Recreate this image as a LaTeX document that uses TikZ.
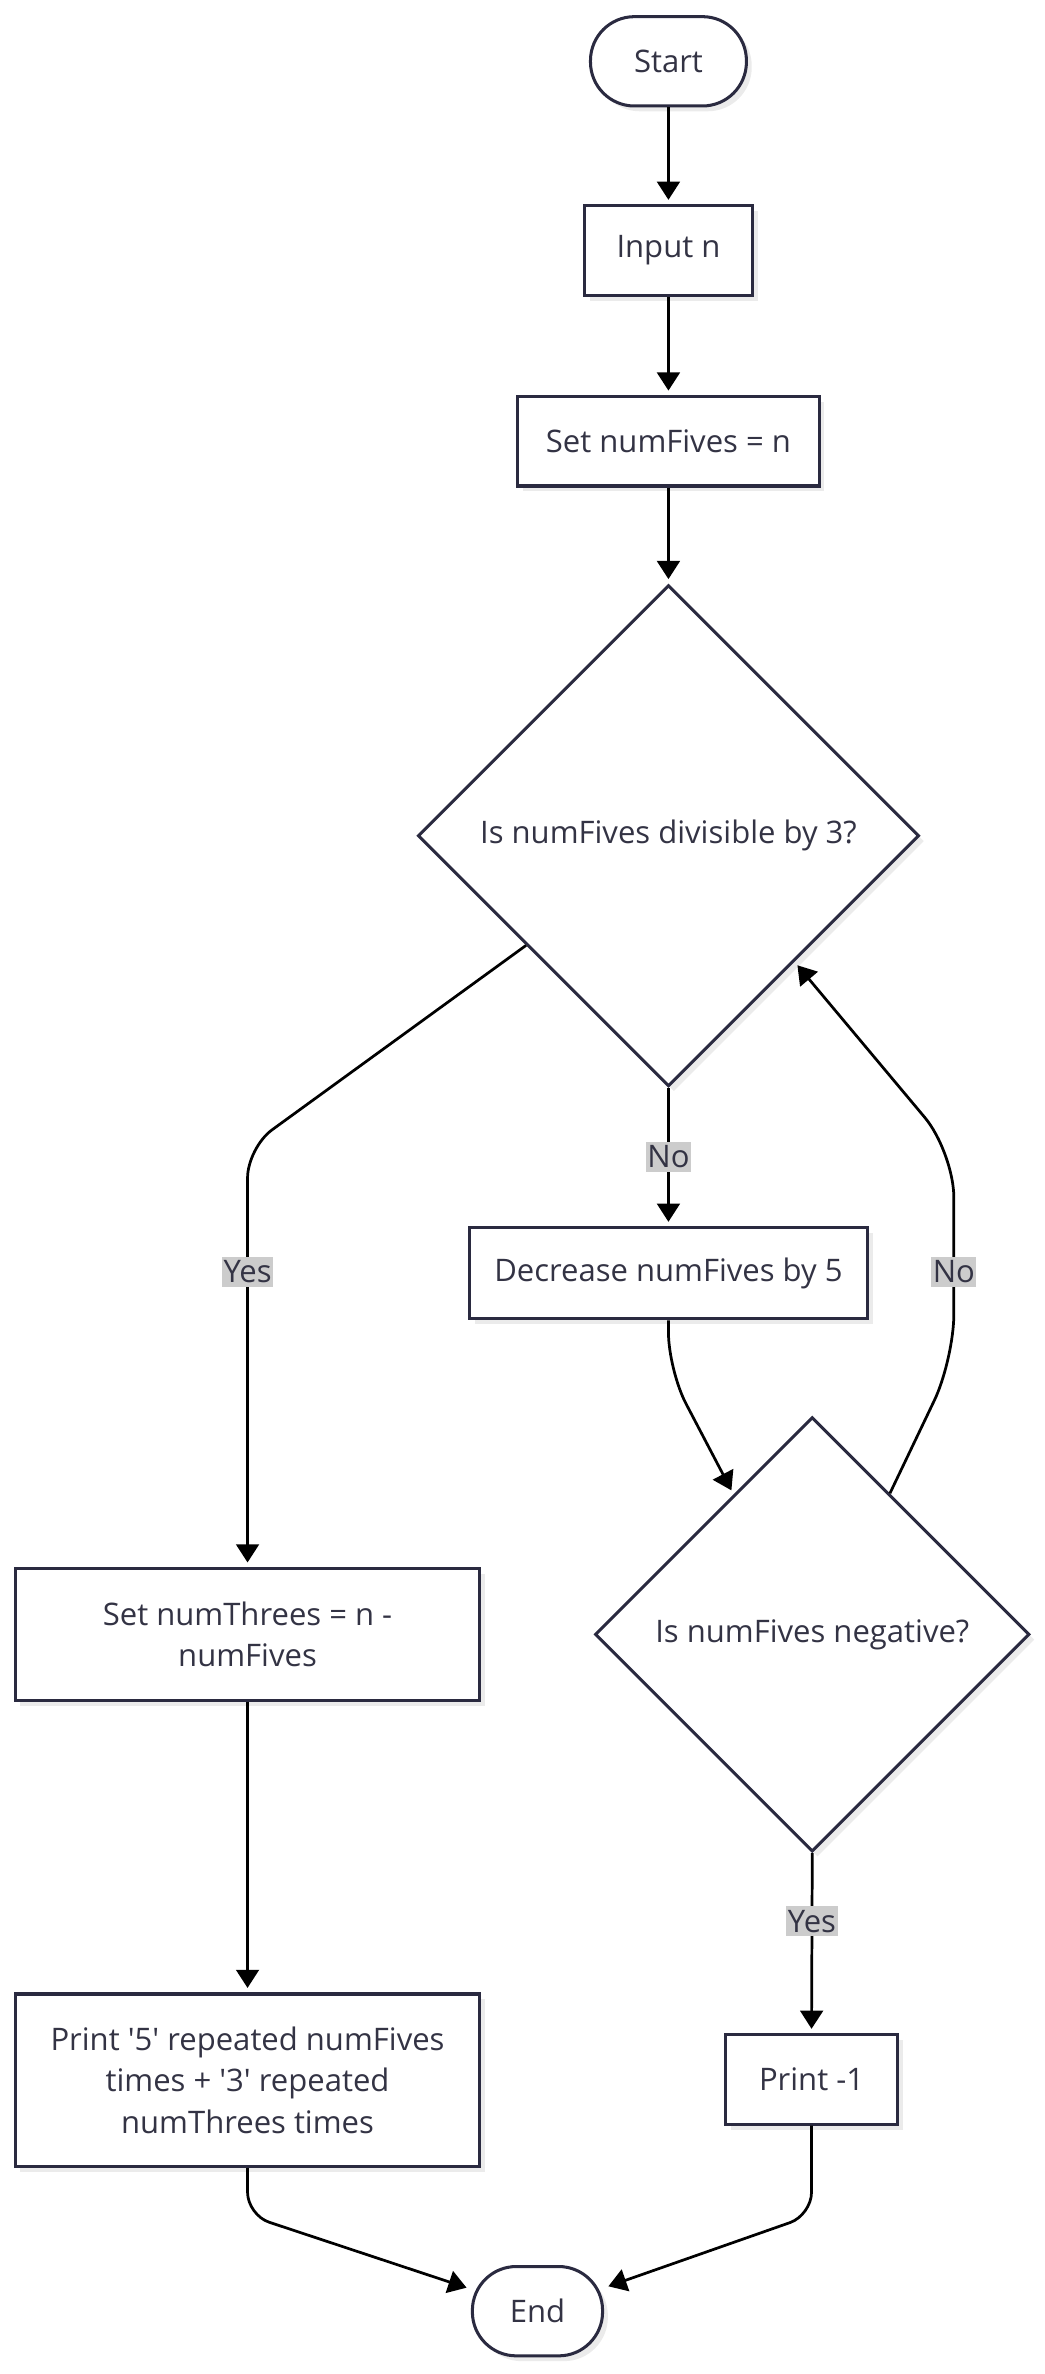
\documentclass[tikz,border=0pt]{standalone}
\usepackage{fontspec}
\setmainfont{Open Sans}
\usetikzlibrary{shapes.geometric,arrows.meta,shadows,calc}
\definecolor{bd}{RGB}{42,42,64}
\definecolor{tx}{RGB}{51,51,68}
\definecolor{lb}{RGB}{204,204,204}
\begin{document}
\begin{tikzpicture}[x=1pt,y=-1pt,
  base/.style={draw=bd, line width=2pt, fill=white, text=tx,
    font=\fontsize{20.5}{27.5}\selectfont, align=center, inner sep=0pt,
    drop shadow={shadow xshift=3.5pt, shadow yshift=-3.5pt, fill=black, opacity=0.08}},
  boxn/.style={base, rectangle},
  term/.style={base, rectangle, rounded corners=29pt},
  dia/.style={base, diamond, aspect=1},
  edge/.style={draw=black, line width=1.8pt, -{Triangle[length=12pt,width=15pt]}, shorten >=3pt},
  lbl/.style={rectangle, draw=none, fill=lb, text=tx, font=\fontsize{20.5}{24}\selectfont, inner xsep=1pt, inner ysep=2.5pt}]
\useasboundingbox (0,0) rectangle (690,1568);

\node[term, minimum width=103pt, minimum height=59pt] (start) at (441.5,40.5) {Start};
\node[boxn, minimum width=111pt, minimum height=59pt] (input) at (441.5,165.5) {Input n};
\node[boxn, minimum width=199pt, minimum height=59pt] (setf) at (441.5,291.5) {Set numFives = n};
\node[dia, minimum width=331pt, minimum height=331pt] (d1) at (441.5,552) {Is numFives divisible by 3?};
\node[boxn, minimum width=263pt, minimum height=60pt] (dec) at (441.5,841) {Decrease numFives by 5};
\node[dia, minimum width=287pt, minimum height=287pt] (d2) at (536.5,1079.5) {Is numFives negative?};
\node[boxn, minimum width=307pt, minimum height=87pt] (nt) at (163.5,1079.5) {Set numThrees = n -\\numFives};
\node[boxn, minimum width=307pt, minimum height=114pt] (p5) at (163.5,1374) {Print \textquotesingle5\textquotesingle{} repeated numFives\\times + \textquotesingle3\textquotesingle{} repeated\\numThrees times};
\node[boxn, minimum width=114pt, minimum height=59pt] (pm) at (536,1373.5) {Print -1};
\node[term, minimum width=86pt, minimum height=59pt] (end) at (355,1526.5) {End};

\coordinate (d1out) at ($(d1.west)!0.435!(d1.south)$);
\coordinate (d2in) at ($(d2.west)!0.64!(d2.north)$);
\coordinate (d2out) at ($(d2.north)!0.355!(d2.east)$);

\draw[edge] (start) -- (input);
\draw[edge] (input) -- (setf);
\draw[edge] (setf) -- (d1.north);
\draw[edge] (d1.south) -- (dec.north);
\draw[edge, rounded corners=20pt] (d1out) -- (163.5,758) -- (nt.north);
\draw[edge, rounded corners=25pt] (dec.south) -- (441.5,905) -- (d2in);
\draw[edge, rounded corners=30pt] (d2out) -- (630,898) -- (630,761) -- (d1.south east);
\draw[edge] (d2.south) -- (pm.north);
\draw[edge] (nt.south) -- (p5.north);
\draw[edge, rounded corners=15pt] (p5.south) -- (163.5,1463) -- (end);
\draw[edge, rounded corners=15pt] (pm.south) -- (536,1463) -- (end);

\node[lbl] (lno1) at (441.5,764) {No};
\node[lbl] (lyes1) at (163.5,840) {Yes};
\node[lbl] (lno2) at (630,840) {No};
\node[lbl] (lyes2) at (536.3,1269) {Yes};
\end{tikzpicture}
\end{document}
